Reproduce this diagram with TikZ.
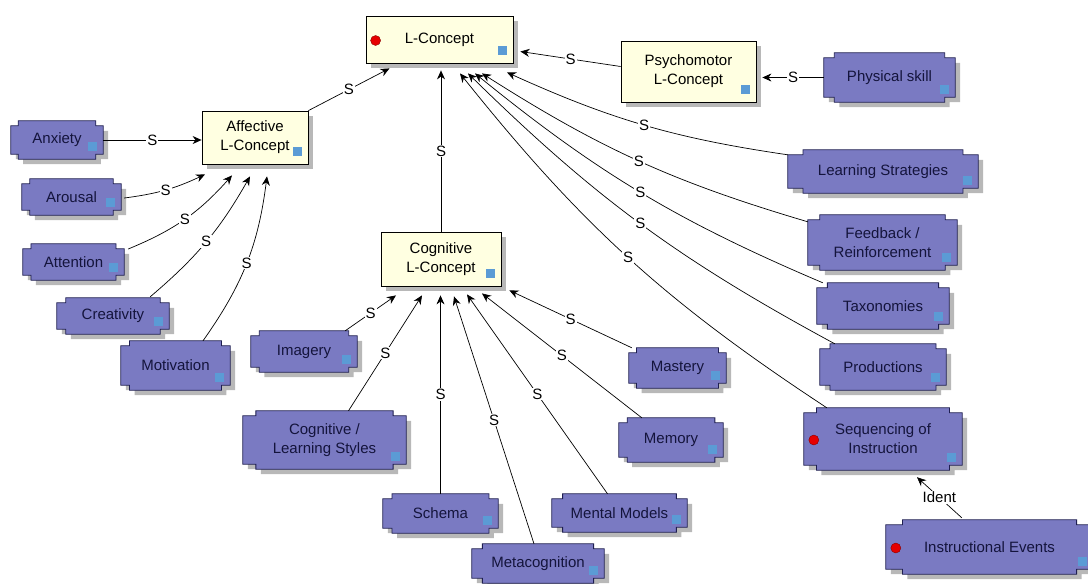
\documentclass[tikz,border=0pt]{standalone}
\usepackage{fontspec}
\setmainfont{Liberation Sans}
\usetikzlibrary{arrows.meta,shadows,backgrounds,calc}

\definecolor{notebg}{HTML}{FFFFE1}
\definecolor{skillbg}{HTML}{7A7AC2}
\definecolor{skillrim}{HTML}{1E1E50}
\definecolor{skilltext}{HTML}{14143C}
\definecolor{tagblue}{HTML}{5B9BD5}
\definecolor{dotred}{HTML}{E60000}

% notched outline of a skill box
\newcommand{\skillpath}[1]{%
  ($(#1.north west)!0.08!(#1.north east)$) -- ($(#1.north east)!0.08!(#1.north west)$)
  -- ($(#1.north east)!0.08!(#1.north west)+(0,5)$) -- ($(#1.north east)+(0,5)$)
  -- ($(#1.south east)+(0,-5)$) -- ($(#1.south east)!0.08!(#1.south west)+(0,-5)$)
  -- ($(#1.south east)!0.08!(#1.south west)$) -- ($(#1.south west)!0.08!(#1.south east)$)
  -- ($(#1.south west)!0.08!(#1.south east)+(0,-5)$) -- ($(#1.south west)+(0,-5)$)
  -- ($(#1.north west)+(0,5)$) -- ($(#1.north west)!0.08!(#1.north east)+(0,5)$) -- cycle}
\newcommand{\skillbox}[1]{%
  \fill[black!28, transform canvas={xshift=5pt,yshift=-5pt}] \skillpath{#1};
  \filldraw[fill=skillbg, draw=skillrim, line width=0.8pt] \skillpath{#1};}
\newcommand{\tagsq}[1]{\fill[tagblue] ($(#1.south east)+(-15,-17)$) rectangle +(9,9);}
\newcommand{\reddot}[1]{\filldraw[fill=dotred, draw=dotred!60!black] ($(#1.west)+(10,1)$) circle[radius=5pt];}

\begin{document}
\begin{tikzpicture}[x=1pt, y=-1pt,
    font=\fontsize{15}{19}\selectfont,
    concept/.style={draw=black, line width=0.8pt, fill=notebg, inner sep=0pt, align=center,
      drop shadow={shadow xshift=5pt, shadow yshift=-5pt, fill=black!28, opacity=1}},
    skill/.style={inner sep=0pt, align=center, text=skilltext},
    link/.style={draw=black, line width=0.7pt, -{Stealth[length=9pt,width=8pt]}},
    lab/.style={fill=white, inner sep=1pt}]
  \useasboundingbox (0,0) rectangle (1088,584);

  % concepts
  \node[concept, minimum width=147, minimum height=47] (lc) at (439.5,39.5) {L-Concept};
  \node[concept, minimum width=135, minimum height=61] (psy) at (688.5,71.5) {Psychomotor\\L-Concept};
  \node[concept, minimum width=106, minimum height=53] (aff) at (255,137.5) {Affective\\L-Concept};
  \node[concept, minimum width=120, minimum height=54] (cog) at (441,259) {Cognitive\\L-Concept};

  % skills
  \node[skill, minimum width=131, minimum height=49] (phy) at (889.5,77.5) {Physical skill};
  \node[skill, minimum width=92, minimum height=38] (anx) at (57,140) {Anxiety};
  \node[skill, minimum width=99, minimum height=36] (aro) at (71.5,197) {Arousal};
  \node[skill, minimum width=101, minimum height=36] (att) at (73.5,262) {Attention};
  \node[skill, minimum width=112, minimum height=36] (cre) at (113,316) {Creativity};
  \node[skill, minimum width=109, minimum height=49] (mot) at (175.5,365.5) {Motivation};
  \node[skill, minimum width=106, minimum height=41] (img) at (304,351.5) {Imagery};
  \node[skill, minimum width=163, minimum height=58] (cls) at (324.5,440) {Cognitive /\\Learning Styles};
  \node[skill, minimum width=115, minimum height=39] (sch) at (440.5,513.5) {Schema};
  \node[skill, minimum width=132, minimum height=39] (met) at (538,563.5) {Metacognition};
  \node[skill, minimum width=135, minimum height=38] (mm) at (619.5,513) {Mental Models};
  \node[skill, minimum width=104, minimum height=44] (mem) at (671,440) {Memory};
  \node[skill, minimum width=97, minimum height=40] (mas) at (677.5,368) {Mastery};
  \node[skill, minimum width=190, minimum height=43] (ls) at (883,171.5) {Learning Strategies};
  \node[skill, minimum width=149, minimum height=55] (fb) at (882.5,242.5) {Feedback /\\Reinforcement};
  \node[skill, minimum width=132, minimum height=46] (tax) at (883,306) {Taxonomies};
  \node[skill, minimum width=126, minimum height=46] (prod) at (883,367) {Productions};
  \node[skill, minimum width=158, minimum height=62] (seq) at (883,439) {Sequencing of\\Instruction};
  \node[skill, minimum width=207, minimum height=54] (ie) at (989.5,547) {Instructional Events};

  \begin{scope}[on background layer]
    \foreach \n in {phy,anx,aro,att,cre,mot,img,cls,sch,met,mm,mem,mas,ls,fb,tax,prod,seq,ie}
      {\skillbox{\n}}
  \end{scope}

  \foreach \n in {lc,psy,aff,cog,phy,anx,aro,att,cre,mot,img,cls,sch,met,mm,mem,mas,ls,fb,tax,prod,seq,ie}
    {\tagsq{\n}}
  \reddot{lc}
  \reddot{seq}
  \reddot{ie}

  % into L-Concept
  \draw[link] (aff.north east) -- node[lab] {S} ([shift={(-50,5)}]lc.south);
  \draw[link] (cog) -- node[lab] {S} ([yshift=-7pt]cog.north |- lc.south);
  \draw[link] ([shift={(0,-5)}]psy.west) -- node[lab] {S} ([shift={(7,12)}]lc.east);
  \draw[link] (phy) -- node[lab] {S} ([xshift=6pt]phy.west -| psy.east);
  \draw[link] ([shift={(0,5)}]ls.north west) to[bend left=8] node[lab] {S} ([shift={(67.5,9)}]lc.south);
  \draw[link] ([shift={(0,7)}]fb.north west) to[bend left=8] node[lab] {S} ([shift={(42.5,10)}]lc.south);
  \draw[link] ([shift={(6,0)}]tax.north west) to[bend left=8] node[lab] {S} ([shift={(35.5,10)}]lc.south);
  \draw[link] ([shift={(15,0)}]prod.north west) to[bend left=8] node[lab] {S} ([shift={(28.5,10)}]lc.south);
  \draw[link] ([shift={(23,0)}]seq.north west) to[bend left=9] node[lab] {S} ([shift={(20.5,10)}]lc.south);

  % into Affective
  \draw[link] (anx) -- node[lab] {S} (anx.east -| aff.west);
  \draw[link] ([shift={(3,1)}]aro.east) to[bend right=9] node[lab] {S} ([shift={(-50,10)}]aff.south);
  \draw[link] ([shift={(4,-13)}]att.east) to[bend right=13] node[lab] {S} ([shift={(-23,11)}]aff.south);
  \draw[link] ([shift={(-19,-1)}]cre.north east) to[bend right=10] node[lab] {S} ([shift={(-5,12)}]aff.south);
  \draw[link] ([shift={(27.5,0)}]mot.north) to[bend right=14] node[lab] {S} ([shift={(12,12)}]aff.south);

  % into Cognitive
  \draw[link] ([shift={(-12,0)}]img.north east) -- node[lab] {S} ([shift={(-45,9)}]cog.south);
  \draw[link] ([shift={(24,0)}]cls.north) -- node[lab] {S} ([shift={(-19,9)}]cog.south);
  \draw[link] (sch) -- node[lab] {S} ([yshift=-9pt]sch.north |- cog.south);
  \draw[link] ([shift={(-4,0)}]met.north) -- node[lab] {S} ([shift={(13,10)}]cog.south);
  \draw[link] ([shift={(-12,0)}]mm.north) -- node[lab] {S} ([shift={(26,8)}]cog.south);
  \draw[link] ([shift={(23,0)}]mem.north west) -- node[lab] {S} ([shift={(41,7)}]cog.south);
  \draw[link] ([shift={(3,0)}]mas.north west) -- node[lab] {S} ([shift={(8,4)}]cog.south east);

  \draw[link] ([shift={(76,-2)}]ie.north west) -- node[lab] {Ident} ([shift={(34,7)}]seq.south);
\end{tikzpicture}
\end{document}
